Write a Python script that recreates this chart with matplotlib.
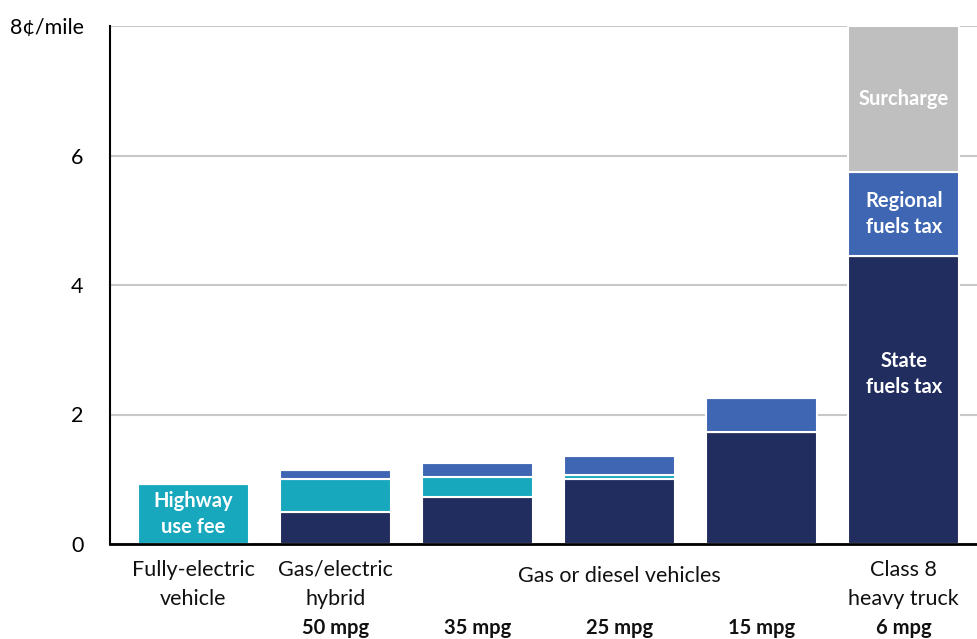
import matplotlib.pyplot as plt
import matplotlib.transforms as mtransforms
import numpy as np

plt.rcParams['font.family'] = ['Lato', 'DejaVu Sans']

vehicles = ['Fully-electric\nvehicle', 'Gas/electric\nhybrid', '', '', '', 'Class 8\nheavy truck']
mpg = ['', '50 mpg', '35 mpg', '25 mpg', '15 mpg', '6 mpg']

# cents per mile by component
state_tax = [0.0, 0.49, 0.72, 1.00, 1.73, 4.45]
use_fee = [0.92, 0.51, 0.32, 0.07, 0.0, 0.0]
regional_tax = [0.0, 0.15, 0.21, 0.29, 0.52, 1.30]
surcharge = [0.0, 0.0, 0.0, 0.0, 0.0, 2.25]

navy = '#222d5f'
blue = '#3e66b2'
teal = '#17a8bd'
grey = '#bfbfbf'

fig = plt.figure(figsize=(9.77, 6.39), dpi=100)
ax = fig.add_axes([110 / 977, 95 / 639, 867 / 977, 518 / 639])

x = np.arange(len(vehicles))
w = 0.78
kw = dict(width=w, edgecolor='white', linewidth=1.5, zorder=3)
bottom = np.zeros(len(x))
for vals, col in [(state_tax, navy), (use_fee, teal), (regional_tax, blue), (surcharge, grey)]:
    ax.bar(x, vals, bottom=bottom, color=col, **kw)
    bottom += np.array(vals)

ax.set_xlim(-0.585, 5.515)
ax.set_ylim(0, 8)
ax.set_yticks([0, 2, 4, 6, 8])
ax.set_yticklabels(['0', '2', '4', '6', '8\u00a2/mile'], fontsize=15.5)
ax.tick_params(axis='y', length=0, pad=19)
ax.tick_params(axis='x', length=0, labelbottom=False)
ax.grid(axis='y', color='#c8c8c8', linewidth=1.5, zorder=0)
for s in ['top', 'right']:
    ax.spines[s].set_visible(False)
ax.spines['left'].set_linewidth(1.5)
ax.spines['bottom'].set_linewidth(2)
ax.spines['bottom'].set_zorder(4)

# labels inside the segments
lab = dict(color='white', fontsize=14.5, fontweight='bold', ha='center', va='center',
           linespacing=1.35, zorder=5)
ax.text(0, use_fee[0] / 2, 'Highway\nuse fee', **lab)
ax.text(5, state_tax[5] * 0.59, 'State\nfuels tax', **lab)
ax.text(5, state_tax[5] + regional_tax[5] / 2, 'Regional\nfuels tax', **lab)
ax.text(5, state_tax[5] + regional_tax[5] + surcharge[5] / 2, 'Surcharge', **lab)

# category labels below the axis
trans = mtransforms.blended_transform_factory(ax.transData, ax.transAxes)
for i, name in enumerate(vehicles):
    if name:
        ax.text(i, -0.03, name, transform=trans, ha='center', va='top', fontsize=15.5,
                linespacing=1.6, color='#111111')
ax.text(3, -0.043, 'Gas or diesel vehicles', transform=trans, ha='center', va='top',
        fontsize=15.5, color='#111111')
for i, m in enumerate(mpg):
    if m:
        ax.text(i, -0.142, m, transform=trans, ha='center', va='top', fontsize=14.5,
                fontweight='bold', color='#111111')

fig.savefig('out.png', dpi=100)
